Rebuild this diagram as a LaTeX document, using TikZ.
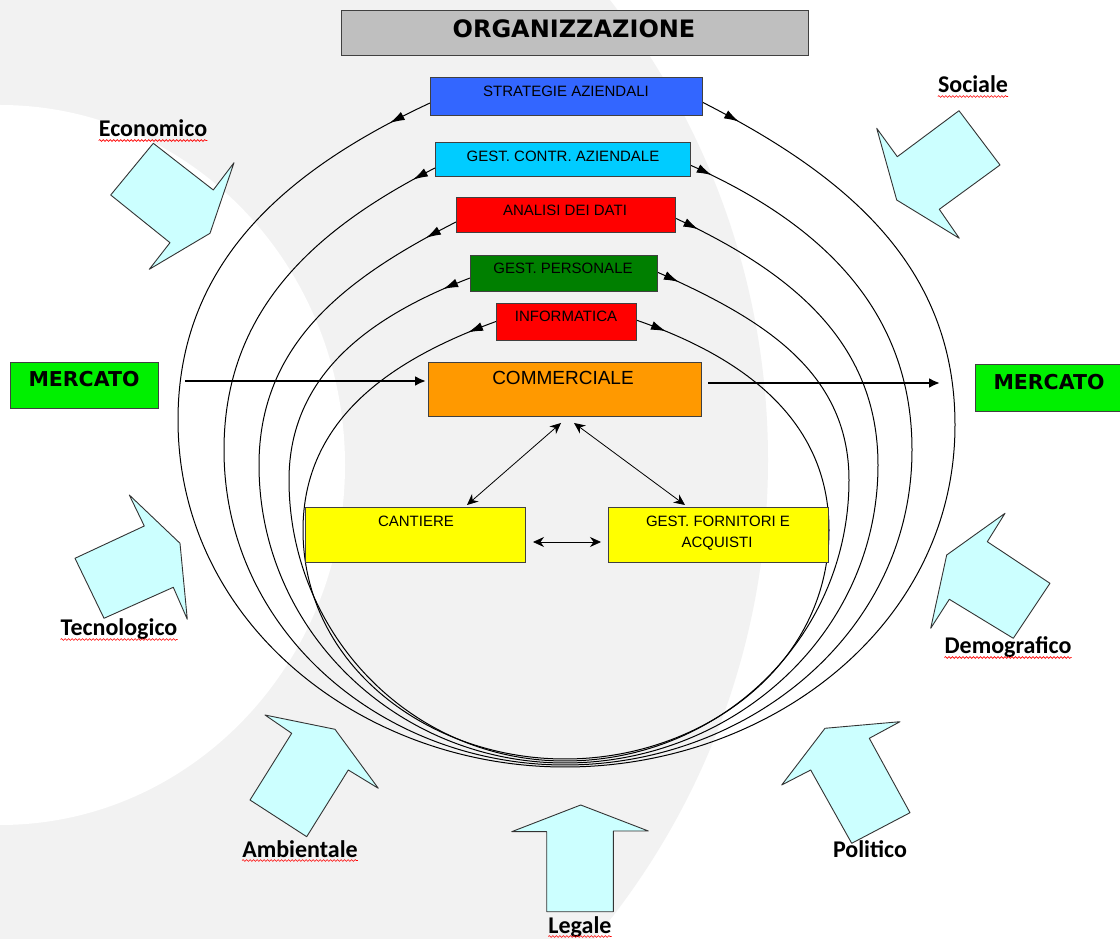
\documentclass[tikz,border=0pt]{standalone}
\usepackage{fontspec}
\setmainfont{Liberation Sans}
\newfontfamily\verd{DejaVu Sans}
\newfontfamily\calib{Carlito}
\usetikzlibrary{arrows.meta,decorations.markings,decorations.pathmorphing}
\definecolor{bggray}{HTML}{F2F2F2}
\definecolor{boxline}{HTML}{404040}
\definecolor{orggray}{HTML}{BFBFBF}
\definecolor{stratblue}{HTML}{3366FF}
\definecolor{contrcyan}{HTML}{00CCFF}
\definecolor{boxred}{HTML}{FF0000}
\definecolor{persgreen}{HTML}{007F00}
\definecolor{commorange}{HTML}{FF9900}
\definecolor{mercgreen}{HTML}{00F000}
\definecolor{boxyellow}{HTML}{FFFF00}
\definecolor{blockfill}{HTML}{CCFFFF}
\tikzset{
  box/.style={draw=boxline, line width=0.9pt, inner sep=0pt, outer sep=0pt},
  boxtext/.style={anchor=base, inner sep=0pt, font=\fontsize{15}{18}\selectfont},
  factor/.style={anchor=base, inner sep=0pt, font=\calib\bfseries\fontsize{24}{28}\selectfont},
  wavy/.style={draw=red, line width=0.6pt, decorate, decoration={snake, amplitude=0.9pt, segment length=3.5pt}},
  block/.style={draw=black!80, line width=0.9pt, fill=blockfill, line join=round},
  flowline/.style 2 args={line width=1pt, postaction={decorate}, decoration={markings,
    mark=at position #1 with {\arrow{Latex[length=15pt,width=9pt]}},
    mark=at position -#2 with {\arrowreversed{Latex[length=15pt,width=9pt]}}}},
  bigarrow/.style={line width=2.2pt, -{Latex[length=11pt,width=10pt]}},
  thinarrow/.style={line width=0.8pt, {Stealth[length=11pt,width=10pt]}-{Stealth[length=11pt,width=10pt]}},
}
\begin{document}
\begin{tikzpicture}[x=1pt,y=1pt]
\useasboundingbox (0,0) rectangle (1120,938);
\fill[white] (0,0) rectangle (1120,938);
% background shape
\begin{scope}
  \clip (0,0) rectangle (1120,938);
  \fill[bggray] (20,478) circle (748pt);
  \fill[white] (0,473) ellipse (345pt and 360pt);
\end{scope}

% boxes (named first, redrawn later over the curve ends)
\node[box, fill=orggray, minimum width=467pt, minimum height=45pt] (org) at (574.5,905.5) {};
\node[box, fill=stratblue, minimum width=272pt, minimum height=38pt] (strat) at (566,842) {};
\node[box, fill=contrcyan, minimum width=255pt, minimum height=34pt] (contr) at (562.5,779) {};
\node[box, fill=boxred, minimum width=219pt, minimum height=35pt] (analisi) at (565.5,723.5) {};
\node[box, fill=persgreen, minimum width=187pt, minimum height=36pt] (pers) at (563.5,665) {};
\node[box, fill=boxred, minimum width=140pt, minimum height=37pt] (info) at (566,616.5) {};

% circulation curves
\draw[flowline={45pt}{42pt}] ([yshift=-7pt]strat.west) to[out=205,in=90] (178,518)
  to[out=-90,in=180] (565,171) to[out=0,in=-90] (955,513) to[out=90,in=-27] ([yshift=-6pt]strat.east);
\draw[flowline={25pt}{24pt}] ([yshift=-9pt]contr.west) to[out=207,in=90] (224,488)
  to[out=-90,in=180] (565,173) to[out=0,in=-90] (912,488) to[out=90,in=-24] ([yshift=-6pt]contr.east);
\draw[flowline={34pt}{26pt}] ([yshift=-7.5pt]analisi.west) to[out=207,in=90] (259,473)
  to[out=-90,in=180] (565,175) to[out=0,in=-90] (878,473) to[out=90,in=-25] ([yshift=-3.5pt]analisi.east);
\draw[flowline={29pt}{24pt}] ([yshift=-5pt]pers.west) to[out=201,in=90] (289,458)
  to[out=-90,in=180] (565,177) to[out=0,in=-90] (849,458) to[out=90,in=-24] ([yshift=1pt]pers.east);
\draw[flowline={30pt}{32pt}] (info.west) to[out=200,in=90] (303,408)
  to[out=-90,in=180] (565,179) to[out=0,in=-90] (829,408) to[out=90,in=-19] ([yshift=1.5pt]info.east);

% redraw boxes above curve ends
\node[box, fill=orggray, minimum width=467pt, minimum height=45pt] at (org) {};
\node[box, fill=stratblue, minimum width=272pt, minimum height=38pt] at (strat) {};
\node[box, fill=contrcyan, minimum width=255pt, minimum height=34pt] at (contr) {};
\node[box, fill=boxred, minimum width=219pt, minimum height=35pt] at (analisi) {};
\node[box, fill=persgreen, minimum width=187pt, minimum height=36pt] at (pers) {};
\node[box, fill=boxred, minimum width=140pt, minimum height=37pt] at (info) {};

\node[box, fill=commorange, minimum width=273pt, minimum height=54pt] (comm) at (564.5,549) {};
\node[box, fill=mercgreen, minimum width=148pt, minimum height=46pt] (mercL) at (84,553) {};
\node[box, fill=mercgreen, minimum width=150pt, minimum height=47pt] (mercR) at (1050,550.5) {};
\node[box, fill=boxyellow, minimum width=220pt, minimum height=55pt] (cant) at (415,403.5) {};
\node[box, fill=boxyellow, minimum width=220pt, minimum height=55pt] (forn) at (718,403.5) {};

% texts
\node[anchor=base, inner sep=0pt, font=\verd\bfseries\fontsize{24}{28}\selectfont] (orgt) at (574,900) {ORGANIZZAZIONE};
\node[boxtext] (stratt) at (566,841) {STRATEGIE AZIENDALI};
\node[boxtext] (contrt) at (563,776) {GEST. CONTR. AZIENDALE};
\node[boxtext] (analisit) at (565,722) {ANALISI DEI DATI};
\node[boxtext] (perst) at (563,664) {GEST. PERSONALE};
\node[boxtext] (infot) at (566,616) {INFORMATICA};
\node[anchor=base, inner sep=0pt, font=\fontsize{19}{22}\selectfont] (commt) at (563,553) {COMMERCIALE};
\node[anchor=base, inner sep=0pt, font=\verd\bfseries\fontsize{20.5}{24}\selectfont] (mercLt) at (84,551) {MERCATO};
\node[anchor=base, inner sep=0pt, font=\verd\bfseries\fontsize{20.5}{24}\selectfont] (mercRt) at (1049,548) {MERCATO};
\node[boxtext] (cantt) at (416,411) {CANTIERE};
\node[boxtext] (fornt1) at (718,411) {GEST. FORNITORI E};
\node[boxtext] (fornt2) at (717,390) {ACQUISTI};

% connectors
\draw[bigarrow] ([xshift=27pt,yshift=4pt]mercL.east) -- ([xshift=-2pt,yshift=8pt]comm.west);
\draw[bigarrow] ([xshift=7pt,yshift=6pt]comm.east) -- ([xshift=-35pt,yshift=4.5pt]mercR.west);
\draw[thinarrow] ([xshift=-3.5pt,yshift=-7pt]comm.south) -- ([xshift=52pt,yshift=2pt]cant.north);
\draw[thinarrow] ([xshift=9.5pt,yshift=-7pt]comm.south) -- ([xshift=-33pt,yshift=2pt]forn.north);
\draw[thinarrow] ([xshift=8pt,yshift=-7.5pt]cant.east) -- ([xshift=-7pt,yshift=-7.5pt]forn.west);

% environment block arrows
\draw[block] (153.3,794.7) -- (213.3,748) -- (234,775.3) -- (210,704.7) -- (149.3,668.7) -- (170,695.3) -- (110.7,743) -- cycle;
\draw[block] (959,827.3) -- (1000,773) -- (939.3,728.7) -- (959.3,699.7) -- (896.7,738) -- (876.7,809.7) -- (897.3,781.3) -- cycle;
\draw[block] (75,379.7) -- (144.3,412) -- (129.3,443) -- (180,394.7) -- (187.3,318.7) -- (173.3,350.7) -- (104,319.7) -- cycle;
\draw[block] (1005,424.7) -- (987.3,396.3) -- (1050,354.7) -- (1013.3,299.7) -- (949.3,338.7) -- (930.7,309.7) -- (946.7,383) -- cycle;
\draw[block] (265,223) -- (291.7,204.7) -- (250,138) -- (306.7,101.3) -- (348.3,168) -- (378.3,149.7) -- (335,208.7) -- cycle;
\draw[block] (511.7,106.3) -- (546.7,106.3) -- (546.7,26.3) -- (613.3,26.3) -- (613.3,107) -- (648.3,107) -- (580.7,133) -- cycle;
\draw[block] (900,216.3) -- (869.3,199.7) -- (910,125.3) -- (851.7,94.7) -- (810.7,168) -- (781.7,153) -- (825,209.7) -- cycle;

% factor labels
\node[factor] (econ) at (153,801) {Economico};
\node[factor] (soc) at (973,845) {Sociale};
\node[factor] (tecn) at (119,302) {Tecnologico};
\node[factor] (demo) at (1008,284) {Demografico};
\node[factor] (amb) at (300,81) {Ambientale};
\node[factor] (leg) at (580,5) {Legale};
\node[factor] (pol) at (870,81) {Politico};
\foreach \n in {econ,soc,tecn,demo,amb,leg}{
  \draw[wavy] ([yshift=-3.5pt]\n.base west) -- ([yshift=-3.5pt]\n.base east);
}
\end{tikzpicture}
\end{document}
